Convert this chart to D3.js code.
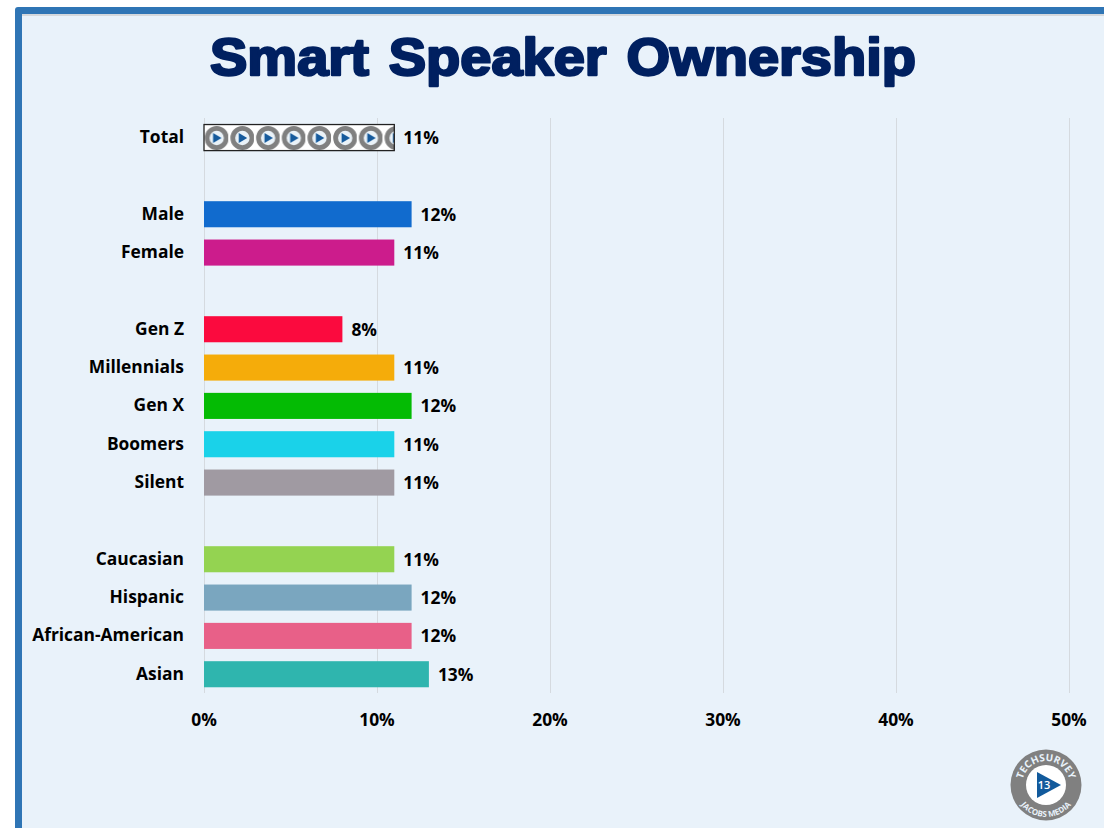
<!DOCTYPE html>
<html><head><meta charset="utf-8">
<script src="https://cdn.jsdelivr.net/npm/d3@7"></script>
<style>html,body{margin:0;padding:0;background:#fff;overflow:hidden}svg{display:block}text{font-family:"Open Sans",sans-serif}</style>
</head><body><div id="c"></div>
<script>
const categories=["Total","g1","Male","Female","g2","Gen Z","Millennials","Gen X","Boomers","Silent","g3","Caucasian","Hispanic","African-American","Asian"];
const labels=["Total","Male","Female","Gen Z","Millennials","Gen X","Boomers","Silent","Caucasian","Hispanic","African-American","Asian"];
const values=[11,12,11,8,11,12,11,11,11,12,12,13];
const colors=["url(#logoPat)","#116BCE","#CC1C8C","#FB0A3E","#F5AC0A","#04BB04","#1AD2E9","#A09AA2","#94D351","#7AA6BF","#E86088","#2FB5AE"];
const ticks=[0,10,20,30,40,50];
const titleText="Smart Speaker Ownership";

const svg=d3.select("#c").append("svg").attr("width",1104).attr("height",828);
const x=d3.scaleLinear().domain([0,50]).range([204,1069]);
const y=d3.scaleBand().domain(categories).range([118.4,693.4]).paddingInner(0.32).paddingOuter(0.16);

// frame
svg.append("rect").attr("x",15).attr("y",7).attr("width",1100).attr("height",830).attr("rx",3).attr("fill","#2F75B5");
svg.append("rect").attr("x",22).attr("y",14).attr("width",1090).attr("height",820).attr("fill","#E9F2FA");
svg.append("line").attr("x1",22).attr("x2",1104).attr("y1",15).attr("y2",15).attr("stroke","#D4D8DC").attr("stroke-width",2);

// title
svg.append("text").attr("x",563).attr("y",74.5).attr("text-anchor","middle")
 .style("font-family","'Liberation Sans',Arial,sans-serif").style("font-weight","700").style("font-size","52px")
 .style("word-spacing","4px")
 .attr("fill","#002060").attr("stroke","#002060").attr("stroke-width",2.4).attr("stroke-linejoin","round")
 .attr("textLength",706).attr("lengthAdjust","spacingAndGlyphs").text(titleText);

// pattern for the Total bar
const defs=svg.append("defs");
defs.append("filter").attr("id","soft").append("feGaussianBlur").attr("stdDeviation",0.45);
const pat=defs.append("pattern").attr("id","logoPat").attr("patternUnits","userSpaceOnUse")
 .attr("x",204.5).attr("y",125).attr("width",25.7).attr("height",26);
pat.append("rect").attr("width",25.7).attr("height",26).attr("fill","#fff");
const pg=pat.append("g").attr("filter","url(#soft)");
pg.append("circle").attr("cx",12.2).attr("cy",13).attr("r",9.6).attr("fill","#EAF2F8").attr("stroke","#808080").attr("stroke-width",4.8);
pg.append("path").attr("d","M8.6 8 L17 13 L8.6 18 Z").attr("fill","#125A9C");

// grid
svg.append("g").selectAll("line").data(ticks).join("line")
 .attr("x1",d=>x(d)+.5).attr("x2",d=>x(d)+.5).attr("y1",118).attr("y2",693)
 .attr("stroke","#D5DADF").attr("stroke-width",1);

// bars
const rows=labels.map((l,i)=>({l,v:values[i],c:colors[i]}));
svg.append("g").selectAll("rect").data(rows).join("rect")
 .attr("x",x(0)).attr("y",d=>y(d.l)).attr("width",d=>x(d.v)-x(0)).attr("height",y.bandwidth())
 .attr("fill",d=>d.c)
 .attr("stroke",d=>d.l==="Total"?"#222":"none").attr("stroke-width",1.3);

const t=s=>s.style("font-weight","700").style("font-size","17.4px").attr("fill","#000");
// category labels
t(svg.append("g").selectAll("text").data(rows).join("text")
 .attr("x",184).attr("y",d=>y(d.l)+y.bandwidth()/2-.5).attr("dy","0.35em").attr("text-anchor","end").text(d=>d.l));
// value labels
t(svg.append("g").selectAll("text").data(rows).join("text")
 .attr("x",d=>x(d.v)+9).attr("y",d=>y(d.l)+y.bandwidth()/2+.3).attr("dy","0.35em").text(d=>d.v+"%"));
// x ticks
t(svg.append("g").selectAll("text").data(ticks).join("text")
 .attr("x",d=>x(d)).attr("y",720).attr("dy","0.35em").attr("text-anchor","middle").text(d=>d+"%"));

// logo
const lg=svg.append("g").attr("transform","translate(1046,785)");
lg.append("circle").attr("r",35.5).attr("fill","#808080");
lg.append("circle").attr("r",20).attr("fill","#fff");
lg.append("path").attr("d","M-9 -13 L15 0 L-9 13 Z").attr("fill","#125A9C");
lg.append("text").attr("x",-2).attr("y",0).attr("dy","0.36em").attr("text-anchor","middle").attr("fill","#fff").style("font-size","11px").style("font-weight","600").text("13");
defs.append("path").attr("id","arcTop").attr("d","M-22.6 8.2 A24 24 0 1 1 22.6 8.2");
defs.append("path").attr("id","arcBot").attr("d","M-32 0 A32 32 0 0 0 32 0");
lg.append("text").style("font-size","10px").style("font-weight","700").attr("fill","#E9F2FA").append("textPath").attr("href","#arcTop").attr("startOffset","50%").attr("text-anchor","middle").text("TECHSURVEY");
lg.append("text").style("font-size","8px").style("font-weight","700").attr("fill","#E9F2FA").append("textPath").attr("href","#arcBot").attr("startOffset","50%").attr("text-anchor","middle").text("JACOBS MEDIA");
</script></body></html>
